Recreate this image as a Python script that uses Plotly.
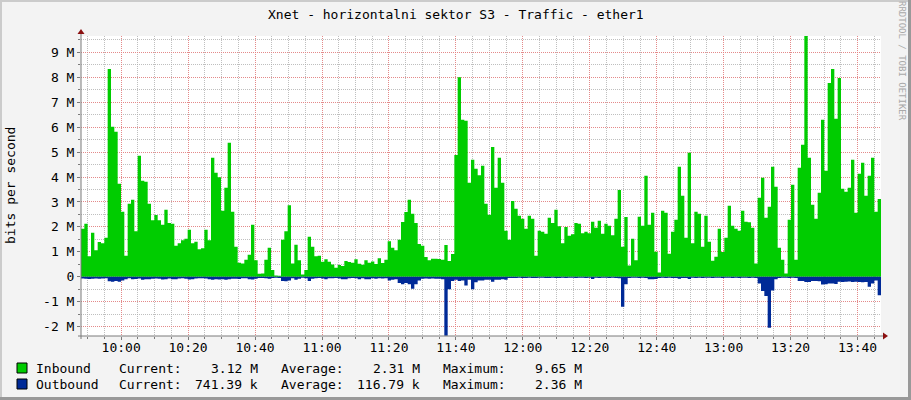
import plotly.graph_objects as go
import pandas as pd

# ---------------- data ----------------
title_text = "Xnet - horizontalni sektor S3 - Traffic - ether1"
y_axis_title = "bits per second"
watermark = "RRDTOOL / TOBI OETIKER"

start_time = "2024-05-01 09:48:00"
end_time = "2024-05-01 13:47:00"

# Inbound traffic, Mbit/s, one value per sample
inbound_mbps = [
    1.93, 2.13, 0.83, 1.77, 1.07, 1.40, 1.35, 1.57, 8.33, 6.01,
    5.81, 3.73, 2.61, 0.85, 2.93, 3.09, 1.83, 4.85, 3.85, 3.81,
    2.93, 2.27, 2.48, 2.27, 2.09, 2.69, 2.16, 2.13, 1.25, 1.35,
    1.47, 1.53, 1.89, 1.35, 1.41, 1.11, 1.15, 1.89, 1.47, 4.77,
    4.17, 3.99, 2.65, 3.57, 5.37, 2.61, 1.21, 0.56, 0.53, 0.69,
    0.89, 2.09, 0.67, 0.12, 0.13, 0.69, 1.17, 0.27, 0.05, 0.04,
    1.49, 1.83, 2.87, 0.53, 1.29, 0.67, 0.09, 0.27, 1.61, 1.21,
    0.83, 0.85, 0.60, 0.71, 0.60, 0.49, 0.36, 0.47, 0.43, 0.63,
    0.59, 0.56, 0.71, 0.52, 0.48, 0.67, 0.56, 0.61, 0.51, 0.75,
    0.55, 0.69, 1.43, 1.17, 1.07, 1.49, 2.20, 2.60, 3.09, 2.53,
    2.16, 1.32, 1.25, 0.80, 0.67, 0.73, 0.73, 0.72, 0.69, 1.28,
    0.63, 0.92, 4.88, 8.00, 6.29, 6.25, 3.77, 4.69, 4.33, 4.07,
    4.45, 2.93, 2.49, 5.20, 3.57, 4.77, 3.77, 1.85, 1.49, 3.04,
    2.73, 2.45, 2.33, 1.93, 2.45, 2.33, 0.85, 1.85, 1.81, 1.73,
    2.37, 2.16, 2.69, 2.03, 1.35, 2.00, 1.65, 1.71, 2.16, 2.13,
    1.75, 1.81, 1.75, 2.21, 1.97, 2.25, 1.73, 2.13, 2.05, 1.67,
    2.33, 3.48, 1.21, 2.40, 0.45, 1.53, 0.67, 2.41, 2.05, 4.05,
    2.09, 2.57, 1.01, 0.17, 2.65, 2.57, 0.93, 1.81, 2.29, 4.41,
    3.25, 1.57, 4.97, 1.35, 2.61, 2.53, 1.21, 2.45, 1.41, 0.65,
    0.81, 1.93, 1.00, 1.57, 2.85, 2.05, 1.93, 1.85, 2.65, 2.21,
    2.19, 1.97, 0.53, 3.17, 3.97, 2.37, 2.81, 4.41, 3.61, 1.17,
    0.69, 0.13, 2.29, 3.69, 0.69, 4.37, 5.29, 9.65, 4.77, 2.89,
    2.33, 3.37, 6.29, 4.25, 7.77, 8.33, 6.33, 7.97, 3.53, 3.41,
    3.57, 4.69, 2.57, 4.13, 4.57, 3.25, 4.05, 4.77, 2.61, 3.12,
]

# Outbound traffic, Mbit/s (drawn below zero)
outbound_mbps = [
    0.07, 0.08, 0.09, 0.08, 0.07, 0.08, 0.07, 0.06, 0.18, 0.20,
    0.17, 0.20, 0.15, 0.10, 0.06, 0.10, 0.09, 0.07, 0.12, 0.10,
    0.10, 0.08, 0.07, 0.08, 0.11, 0.10, 0.07, 0.10, 0.10, 0.07,
    0.06, 0.08, 0.11, 0.10, 0.07, 0.06, 0.06, 0.07, 0.10, 0.12,
    0.10, 0.11, 0.10, 0.12, 0.10, 0.08, 0.08, 0.09, 0.06, 0.06,
    0.10, 0.11, 0.08, 0.05, 0.05, 0.06, 0.08, 0.05, 0.04, 0.05,
    0.17, 0.18, 0.15, 0.06, 0.12, 0.08, 0.04, 0.06, 0.17, 0.08,
    0.06, 0.05, 0.07, 0.10, 0.06, 0.06, 0.05, 0.07, 0.10, 0.10,
    0.06, 0.05, 0.06, 0.10, 0.06, 0.10, 0.10, 0.06, 0.08, 0.06,
    0.07, 0.06, 0.15, 0.12, 0.10, 0.25, 0.30, 0.25, 0.30, 0.48,
    0.30, 0.15, 0.08, 0.07, 0.08, 0.07, 0.08, 0.08, 0.10, 2.36,
    0.50, 0.17, 0.12, 0.17, 0.15, 0.35, 0.12, 0.50, 0.22, 0.15,
    0.15, 0.12, 0.12, 0.20, 0.12, 0.12, 0.10, 0.12, 0.05, 0.05,
    0.05, 0.04, 0.05, 0.05, 0.04, 0.05, 0.05, 0.04, 0.04, 0.05,
    0.05, 0.04, 0.05, 0.05, 0.04, 0.05, 0.04, 0.04, 0.05, 0.04,
    0.04, 0.05, 0.04, 0.09, 0.04, 0.05, 0.04, 0.04, 0.05, 0.04,
    0.05, 0.06, 1.20, 0.30, 0.05, 0.04, 0.04, 0.05, 0.04, 0.05,
    0.10, 0.10, 0.09, 0.05, 0.04, 0.05, 0.04, 0.05, 0.05, 0.08,
    0.05, 0.05, 0.09, 0.04, 0.05, 0.04, 0.05, 0.04, 0.04, 0.05,
    0.04, 0.04, 0.05, 0.04, 0.04, 0.05, 0.04, 0.05, 0.04, 0.04,
    0.05, 0.04, 0.05, 0.27, 0.57, 0.77, 2.04, 0.55, 0.10, 0.05,
    0.04, 0.04, 0.05, 0.04, 0.05, 0.17, 0.17, 0.21, 0.21, 0.17,
    0.17, 0.18, 0.31, 0.30, 0.27, 0.27, 0.29, 0.20, 0.21, 0.20,
    0.19, 0.21, 0.20, 0.21, 0.22, 0.21, 0.40, 0.27, 0.15, 0.74,
]

x_tick_labels = ["10:00", "10:20", "10:40", "11:00", "11:20", "11:40", "12:00",
                 "12:20", "12:40", "13:00", "13:20", "13:40"]
y_tick_values = [-2, -1, 0, 1, 2, 3, 4, 5, 6, 7, 8, 9]
y_tick_labels = ["-2 M", "-1 M", "0", "1 M", "2 M", "3 M", "4 M", "5 M",
                 "6 M", "7 M", "8 M", "9 M"]
y_range = [-2.37, 9.65]

legend_names = ["Inbound", "Outbound"]
legend_current = ["3.12 M", "741.39 k"]
legend_average = ["2.31 M", "116.79 k"]
legend_maximum = ["9.65 M", "2.36 M"]

inbound_color = "#00CC00"
outbound_color = "#002A97"

# ---------------- figure ----------------
FW, FH = 911, 400
L, T, W, H = 81, 36, 800, 300
FONT = "DejaVu Sans Mono"
day = start_time.split(" ")[0]

def px(x):
    return (x - L) / W

def py(y):
    return (T + H - y) / H

times = pd.date_range(start_time, end_time, periods=len(inbound_mbps) + 1)
inb = inbound_mbps + [inbound_mbps[-1]]
outb = [-v for v in outbound_mbps] + [-outbound_mbps[-1]]

fig = go.Figure()
fig.add_trace(go.Scatter(x=times, y=inb, mode="lines", line=dict(width=0, shape="hv"),
                         fill="tozeroy", fillcolor=inbound_color, name="Inbound",
                         hoverinfo="skip"))
fig.add_trace(go.Scatter(x=times, y=outb, mode="lines", line=dict(width=0, shape="hv"),
                         fill="tozeroy", fillcolor=outbound_color, name="Outbound",
                         hoverinfo="skip"))

major_grid = "rgba(240,120,120,0.75)"
minor_grid = "rgba(170,170,170,0.75)"
axis_col = "#7a7a7a"

fig.update_layout(
    width=FW, height=FH, autosize=False,
    margin=dict(l=L, r=FW - L - W, t=T, b=FH - T - H, pad=0),
    paper_bgcolor="#F3F3F3", plot_bgcolor="#FFFFFF",
    showlegend=False,
    font=dict(family=FONT, size=13, color="#000000"),
    xaxis=dict(
        type="date",
        range=[start_time, end_time],
        tickmode="array",
        tickvals=[f"{day} {t}:00" for t in x_tick_labels],
        ticktext=x_tick_labels,
        showgrid=True, gridcolor=major_grid, griddash="1px,1px", gridwidth=1,
        ticks="outside", ticklen=3, tickcolor=axis_col,
        ticklabelstandoff=-4,
        minor=dict(tickmode="linear", tick0=f"{day} 09:50:00", dtick=300000,
                   showgrid=True, gridcolor=minor_grid, griddash="1px,1px",
                   ticks="outside", ticklen=2, tickcolor=axis_col),
        showline=False, zeroline=False, fixedrange=True,
        tickfont=dict(family=FONT, size=13, color="#000000"),
    ),
    yaxis=dict(
        range=y_range,
        tickmode="array", tickvals=y_tick_values, ticktext=y_tick_labels,
        showgrid=True, gridcolor=major_grid, griddash="1px,1px", gridwidth=1,
        ticks="outside", ticklen=3, tickcolor=axis_col,
        minor=dict(tickmode="linear", tick0=0, dtick=0.5,
                   showgrid=True, gridcolor=minor_grid, griddash="1px,1px",
                   ticks="outside", ticklen=2, tickcolor=axis_col),
        showline=False, zeroline=False, fixedrange=True,
        tickfont=dict(family=FONT, size=13, color="#000000"),
    ),
)

shapes = []
# frame (3D look)
shapes.append(dict(type="rect", xref="paper", yref="paper", x0=px(0), x1=px(FW), y0=py(0), y1=py(2),
                   fillcolor="#CBCBCB", line=dict(width=0), layer="above"))
shapes.append(dict(type="rect", xref="paper", yref="paper", x0=px(0), x1=px(2), y0=py(0), y1=py(FH),
                   fillcolor="#CBCBCB", line=dict(width=0), layer="above"))
shapes.append(dict(type="rect", xref="paper", yref="paper", x0=px(FW - 3), x1=px(FW), y0=py(0), y1=py(FH),
                   fillcolor="#999999", line=dict(width=0), layer="above"))
shapes.append(dict(type="rect", xref="paper", yref="paper", x0=px(0), x1=px(FW), y0=py(FH - 3), y1=py(FH),
                   fillcolor="#999999", line=dict(width=0), layer="above"))
# axis lines
shapes.append(dict(type="line", xref="paper", yref="paper", x0=px(81), x1=px(81), y0=py(33), y1=py(339),
                   line=dict(color=axis_col, width=1), layer="above"))
shapes.append(dict(type="line", xref="paper", yref="paper", x0=px(78), x1=px(884), y0=py(336), y1=py(336),
                   line=dict(color=axis_col, width=1), layer="above"))
# arrows
arrow_col = "#8B1010"
shapes.append(dict(type="path", xref="paper", yref="paper",
                   path=f"M {px(77.5)} {py(34)} L {px(84.5)} {py(34)} L {px(81)} {py(29)} Z",
                   fillcolor=arrow_col, line=dict(width=0), layer="above"))
shapes.append(dict(type="path", xref="paper", yref="paper",
                   path=f"M {px(883)} {py(332.5)} L {px(883)} {py(339.5)} L {px(888)} {py(336)} Z",
                   fillcolor=arrow_col, line=dict(width=0), layer="above"))
# legend swatches
for i, col in enumerate([inbound_color, outbound_color]):
    y0 = 363 + i * 16
    shapes.append(dict(type="rect", xref="paper", yref="paper", x0=px(17), x1=px(27),
                       y0=py(y0 + 10), y1=py(y0), fillcolor=col,
                       line=dict(color="#000000", width=1), layer="above"))
fig.update_layout(shapes=shapes)

ann = []
ann.append(dict(text=title_text, xref="paper", yref="paper", x=px(455.5), y=py(14),
                xanchor="center", yanchor="middle", showarrow=False,
                font=dict(family=FONT, size=13, color="#000000")))
ann.append(dict(text=y_axis_title, xref="paper", yref="paper", x=px(10), y=py(186),
                xanchor="center", yanchor="middle", textangle=-90, showarrow=False,
                font=dict(family=FONT, size=13, color="#000000")))
ann.append(dict(text=watermark, xref="paper", yref="paper", x=px(902), y=py(61),
                xanchor="center", yanchor="middle", textangle=90, showarrow=False,
                font=dict(family=FONT, size=9, color="#A8A8A8")))
for i in range(2):
    yc = py(368 + i * 16)
    ann.append(dict(text=legend_names[i], xref="paper", yref="paper", x=px(34), y=yc,
                    xanchor="left", yanchor="middle", showarrow=False))
    for lab, xl, val, xr in [("Current:", 116.5, legend_current[i], 260),
                             ("Average:", 278.5, legend_average[i], 422),
                             ("Maximum:", 440.5, legend_maximum[i], 584)]:
        ann.append(dict(text=lab, xref="paper", yref="paper", x=px(xl), y=yc,
                        xanchor="left", yanchor="middle", showarrow=False))
        ann.append(dict(text=val, xref="paper", yref="paper", x=px(xr), y=yc,
                        xanchor="right", yanchor="middle", showarrow=False))
for a in ann:
    a.setdefault("font", dict(family=FONT, size=13, color="#000000"))
fig.update_layout(annotations=ann)

fig.write_html(
    "out.html",
    config={"displayModeBar": False},
    post_script="document.body.style.margin='0px';document.body.style.padding='0px';",
)
